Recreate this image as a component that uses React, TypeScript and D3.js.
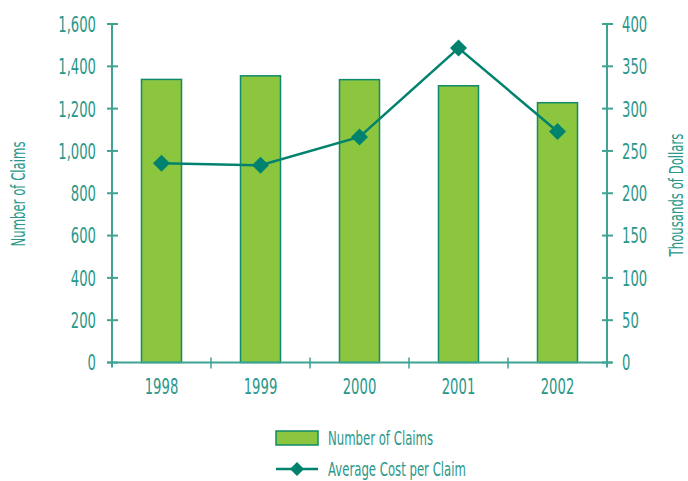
import React from "react";
import * as d3 from "d3";

const years = ["1998", "1999", "2000", "2001", "2002"];
const claims = [1338, 1355, 1337, 1308, 1228];
const avgCost = [235.5, 233, 266.5, 371.5, 273];
const leftTicks = [0, 200, 400, 600, 800, 1000, 1200, 1400, 1600];
const rightTicks = [0, 50, 100, 150, 200, 250, 300, 350, 400];

const W = 688, H = 481;
const left = 112, right = 607, top = 24, bottom = 362.5;
const axisColor = "#3fa393";
const textColor = "#2a978a";
const lineColor = "#00826e";
const barFill = "#8cc63f";
const barStroke = "#108a6a";
const font = "'DejaVu Sans', sans-serif";
const SX = 0.6;

function T({ x, y, rot = 0, anchor = "start", dy = "0", fs = 22, children }: any) {
  return (
    <text transform={`translate(${x},${y}) rotate(${rot}) scale(${SX},1)`} dy={dy} textAnchor={anchor}
      fontSize={fs} fill={textColor}>{children}</text>
  );
}

export default function App() {
  const x = d3.scaleBand().domain(years).range([left, right]).paddingInner(0).paddingOuter(0);
  const yL = d3.scaleLinear().domain([0, 1600]).range([bottom, top]);
  const yR = d3.scaleLinear().domain([0, 400]).range([bottom, top]);
  const barW = 40;
  const line = d3.line<number>().x((_, i) => x(years[i])! + x.bandwidth() / 2).y(d => yR(d));
  const diamond = (cx: number, cy: number, r: number) => `M${cx},${cy - r}L${cx + r},${cy}L${cx},${cy + r}L${cx - r},${cy}Z`;
  const boundaries = years.slice(1).map(y => x(y)!);

  return (
    <svg width={W} height={H} style={{ position: "absolute", left: 0, top: 0 }} fontFamily={font}>
      {claims.map((v, i) => (
        <rect key={i} x={x(years[i])! + x.bandwidth() / 2 - barW / 2} y={yL(v)} width={barW} height={bottom - yL(v)}
          fill={barFill} stroke={barStroke} strokeWidth={1.5} />
      ))}
      <line x1={left} x2={left} y1={top} y2={bottom + 5} stroke={axisColor} strokeWidth={2} />
      <line x1={right} x2={right} y1={top} y2={bottom + 5} stroke={axisColor} strokeWidth={2} />
      <line x1={left - 5} x2={right + 5} y1={bottom} y2={bottom} stroke={axisColor} strokeWidth={2} />
      {leftTicks.map(t => (
        <g key={"l" + t}>
          <line x1={left - 5} x2={left + 6} y1={yL(t)} y2={yL(t)} stroke={axisColor} strokeWidth={2} />
          <T x={left - 16} y={yL(t)} dy="0.36em" anchor="end">{d3.format(",")(t)}</T>
        </g>
      ))}
      {rightTicks.map(t => (
        <g key={"r" + t}>
          <line x1={right - 5} x2={right + 6} y1={yR(t)} y2={yR(t)} stroke={axisColor} strokeWidth={2} />
          <T x={right + 15} y={yR(t)} dy="0.36em">{t}</T>
        </g>
      ))}
      {boundaries.map((b, i) => (
        <line key={"b" + i} x1={b} x2={b} y1={bottom - 5} y2={bottom + 6} stroke={axisColor} strokeWidth={1.5} />
      ))}
      {years.map(y => (
        <T key={y} x={x(y)! + x.bandwidth() / 2} y={394} anchor="middle">{y}</T>
      ))}
      <T x={25} y={194} rot={-90} anchor="middle" fs={19.5}>Number of Claims</T>
      <T x={683} y={195} rot={-90} anchor="middle" fs={19.5}>Thousands of Dollars</T>
      <path d={line(avgCost)!} fill="none" stroke={lineColor} strokeWidth={2.5} />
      {avgCost.map((v, i) => (
        <path key={i} d={diamond(x(years[i])! + x.bandwidth() / 2, yR(v), 8.5)} fill={lineColor} />
      ))}
      <rect x={276} y={431} width={42} height={14} fill={barFill} stroke={barStroke} strokeWidth={1.5} />
      <T x={328} y={445} fs={19.5}>Number of Claims</T>
      <line x1={276} x2={318} y1={469} y2={469} stroke={lineColor} strokeWidth={2.5} />
      <path d={diamond(297, 469, 7)} fill={lineColor} />
      <T x={328} y={476} fs={19.5}>Average Cost per Claim</T>
    </svg>
  );
}
